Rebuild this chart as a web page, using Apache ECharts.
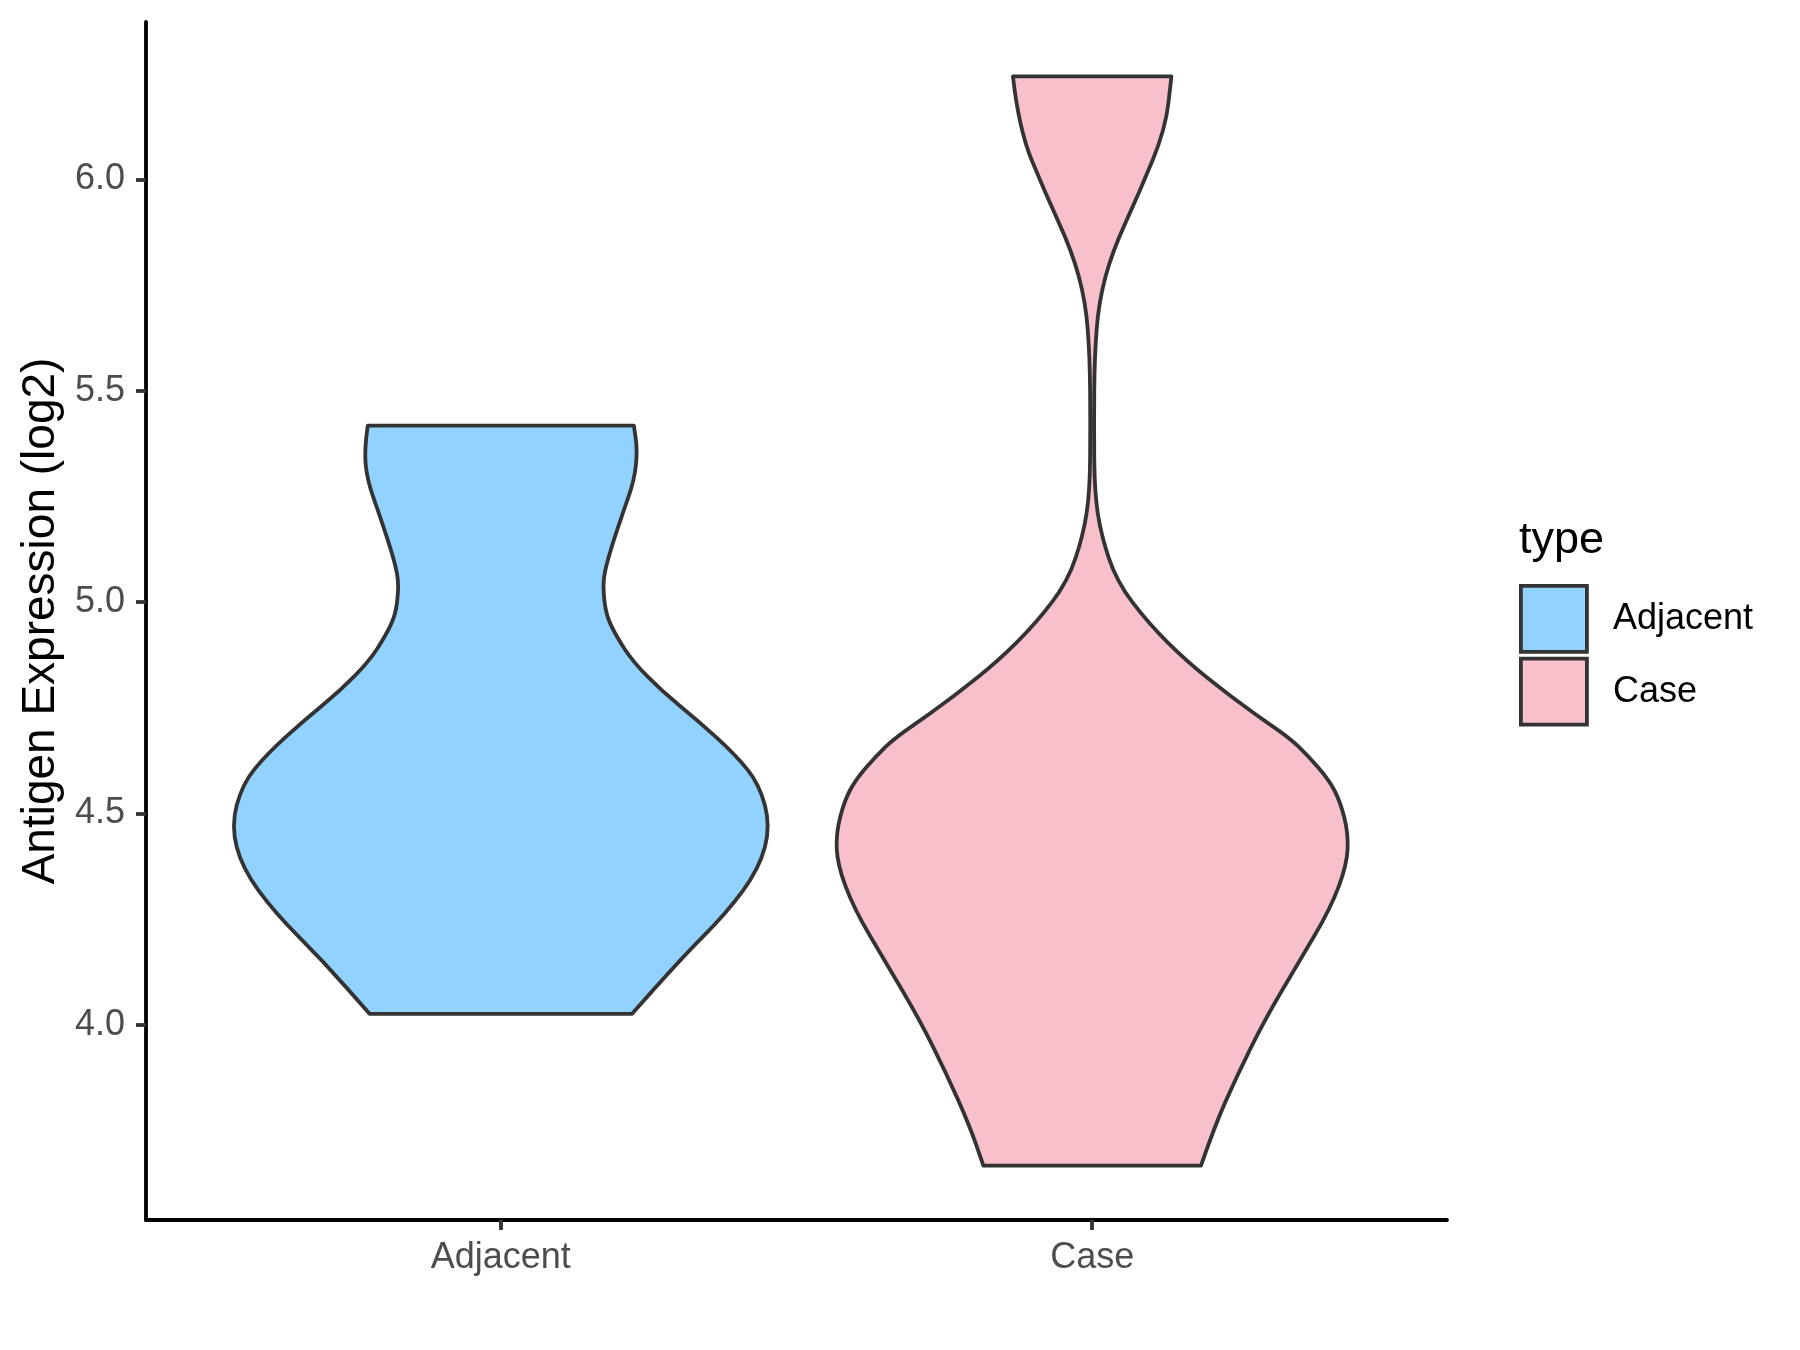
<!DOCTYPE html>
<html>
<head>
<meta charset="utf-8">
<script src="https://cdn.jsdelivr.net/npm/echarts@6/dist/echarts.min.js"></script>
<style>
  html, body { margin: 0; padding: 0; background: #ffffff; }
  #chart { width: 1800px; height: 1350px; }
</style>
</head>
<body>
<div id="chart"></div>
<script>
// groups on the x axis
const groups = ['Adjacent', 'Case']
const groupColors = ['#92D2FE', '#F8C0CB']

// violin outlines: y value and half width (in category units)
const adjacentY = [5.418, 5.36, 5.29, 5.21, 5.13, 5.07, 5.03, 4.97, 4.92, 4.86, 4.79, 4.72, 4.64, 4.57, 4.47, 4.37, 4.265, 4.15, 4.026]
const adjacentHalfWidth = [0.225, 0.231, 0.226, 0.206, 0.187, 0.175, 0.173, 0.178, 0.195, 0.223, 0.272, 0.333, 0.396, 0.437, 0.456, 0.437, 0.382, 0.300, 0.222]

const caseY = [6.244, 6.12, 5.97, 5.83, 5.71, 5.58, 5.42, 5.26, 5.16, 5.05, 4.95, 4.86, 4.79, 4.735, 4.68, 4.635, 4.58, 4.53, 4.455, 4.38, 4.275, 4.15, 4.01, 3.88, 3.76, 3.667]
const caseHalfWidth = [0.134, 0.124, 0.080, 0.034, 0.011, 0.004, 0.003, 0.004, 0.015, 0.041, 0.095, 0.160, 0.223, 0.275, 0.333, 0.366, 0.400, 0.419, 0.433, 0.431, 0.403, 0.350, 0.291, 0.245, 0.207, 0.184]

// y axis ticks
const yTicks = [4.0, 4.5, 5.0, 5.5, 6.0]

const profiles = [
  { y: adjacentY, hw: adjacentHalfWidth },
  { y: caseY, hw: caseHalfWidth }
]

// ggplot-like 5% expansion of the data range
const allY = adjacentY.concat(caseY)
const yLo = Math.min(...allY)
const yHi = Math.max(...allY)
const pad = (yHi - yLo) * 0.05

const font = 'Liberation Sans, Arial, sans-serif'

const mid = (a, b) => [(a[0] + b[0]) / 2, (a[1] + b[1]) / 2]
const pt = (p) => p[0].toFixed(2) + ' ' + p[1].toFixed(2)

// smooth side: quadratic curves through the midpoints of the outline points
const smoothSide = (pts) => {
  let d = ''
  for (let i = 1; i < pts.length - 1; i++) {
    d += ' Q ' + pt(pts[i]) + ' ' + pt(mid(pts[i], pts[i + 1]))
  }
  return d + ' L ' + pt(pts[pts.length - 1])
}

const makeViolin = (groupIndex) => (params, api) => {
  if (params.dataIndex !== 0) return
  const prof = profiles[groupIndex]
  const center = groupIndex + 1
  const left = prof.y.map((y, i) => api.coord([center - prof.hw[i], y]))
  const right = prof.y.map((y, i) => api.coord([center + prof.hw[i], y])).reverse()
  const d = 'M ' + pt(left[0]) + smoothSide(left) +
    ' L ' + pt(right[0]) + smoothSide(right) + ' Z'
  return {
    type: 'path',
    shape: { pathData: d },
    style: {
      fill: groupColors[groupIndex],
      stroke: '#333333',
      lineWidth: 3.8,
      lineJoin: 'round'
    }
  }
}

const chart = echarts.init(document.getElementById('chart'))
chart.setOption({
  animation: false,
  backgroundColor: '#ffffff',
  color: groupColors,
  title: {
    text: 'type',
    left: 1514,
    top: 513,
    textStyle: { fontFamily: font, fontSize: 45, fontWeight: 'normal', color: '#000000' }
  },
  legend: {
    orient: 'vertical',
    left: 1514,
    top: 579,
    itemWidth: 66,
    itemHeight: 66,
    itemGap: 3,
    icon: 'rect',
    data: groups,
    itemStyle: { borderColor: '#333333', borderWidth: 3.8 },
    textStyle: { fontFamily: font, fontSize: 36, color: '#000000', padding: [0, 0, 0, 21] }
  },
  grid: { left: 146, right: 353, top: 22, bottom: 130, containLabel: false },
  xAxis: {
    type: 'value',
    min: 0.4,
    max: 2.6,
    splitLine: { show: false },
    axisLine: { lineStyle: { color: '#000000', width: 3.8 } },
    axisTick: { customValues: [1, 2], length: 10, lineStyle: { color: '#333333', width: 3.8 } },
    axisLabel: {
      customValues: [1, 2],
      formatter: (v) => groups[Math.round(v) - 1],
      fontFamily: font,
      fontSize: 36,
      color: '#4D4D4D',
      margin: 20
    }
  },
  yAxis: {
    type: 'value',
    min: yLo - pad,
    max: yHi + pad,
    name: 'Antigen Expression (log2)',
    nameLocation: 'middle',
    nameGap: 81,
    nameTextStyle: { fontFamily: font, fontSize: 46, color: '#000000' },
    splitLine: { show: false },
    axisLine: { lineStyle: { color: '#000000', width: 3.8 } },
    axisTick: { customValues: yTicks, length: 10, lineStyle: { color: '#333333', width: 3.8 } },
    axisLabel: {
      customValues: yTicks,
      formatter: (v) => v.toFixed(1),
      fontFamily: font,
      fontSize: 36,
      color: '#4D4D4D',
      margin: 21
    }
  },
  series: groups.map((g, gi) => ({
    name: g,
    type: 'custom',
    renderItem: makeViolin(gi),
    itemStyle: { color: groupColors[gi], borderColor: '#333333' },
    encode: { x: 0, y: 1 },
    data: profiles[gi].y.map((y, i) => [gi + 1, y, profiles[gi].hw[i]])
  }))
})
</script>
</body>
</html>
